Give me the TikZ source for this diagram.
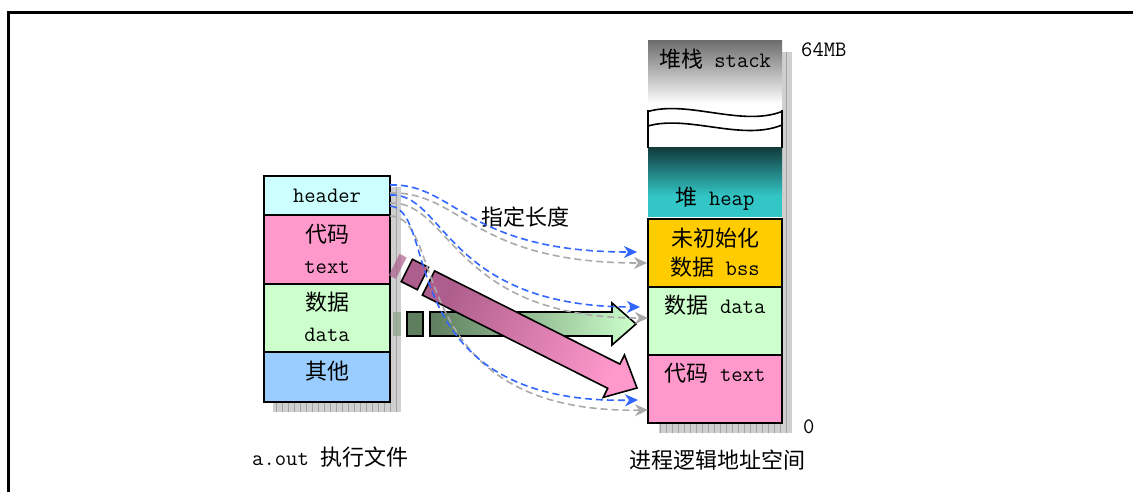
\documentclass[tikz,border=0pt]{standalone}
\usepackage{fontspec}
\newfontfamily\cjkf{Noto Sans CJK SC}
\usetikzlibrary{arrows.meta}
\newcommand\zh[1]{{\cjkf #1}}
\definecolor{hdrC}{HTML}{CCFFFF}
\definecolor{txtC}{HTML}{FF99CC}
\definecolor{datC}{HTML}{CCFFCC}
\definecolor{othC}{HTML}{99CCFF}
\definecolor{bssC}{HTML}{FFCC00}
\definecolor{heapD}{HTML}{123C3C}
\definecolor{heapL}{HTML}{33C6C6}
\definecolor{stackD}{HTML}{6E6E6E}
\definecolor{pinkD}{HTML}{AE5E8C}
\definecolor{greenD}{HTML}{5E7E5E}
\definecolor{greenM}{HTML}{9CC89C}
\definecolor{dashB}{HTML}{3366FF}
\definecolor{dashG}{HTML}{AAAAAA}
\definecolor{shadC}{HTML}{CFCFCF}
\definecolor{shadL}{HTML}{A4A4A4}
\tikzset{
  seg/.style={draw=black, line width=1.6pt, anchor=north west, inner sep=0pt, outer sep=0pt},
  lbl/.style={anchor=base, inner sep=0pt, font=\ttfamily\fontsize{22}{26}\selectfont},
  shadowbox/.style={fill=shadC},
  shadowgrid/.style={draw=shadL, line width=0.5pt},
  bdash/.style={draw=dashB, line width=1.6pt, dash pattern=on 7pt off 4pt,
    -{Stealth[length=13pt,width=12pt,inset=4pt]}},
  gdash/.style={draw=dashG, line width=1.6pt, dash pattern=on 7pt off 4pt,
    -{Stealth[length=13pt,width=12pt,inset=4pt]}},
  bigarrow/.style={draw=black, line width=1.6pt, line join=miter},
}
\begin{document}
\begin{tikzpicture}[x=1pt,y=-1pt]
\useasboundingbox (0,0) rectangle (1133,492);
% frame
\draw[line width=2.6pt] (8.5,492) -- (8.5,12.5) -- (1133,12.5);

% ---- shadows
\fill[shadowbox] (390,187) rectangle (401,412);
\fill[shadowbox] (273,402) rectangle (401,412);
\begin{scope}
  \clip (390,187) rectangle (401,412) (273,402) rectangle (401,412);
  \draw[shadowgrid, step=6] (270,185) grid (402,413);
\end{scope}
\fill[shadowbox] (782,52) rectangle (792,433);
\fill[shadowbox] (659,423) rectangle (792,433);
\begin{scope}
  \clip (782,52) rectangle (792,433) (659,423) rectangle (792,433);
  \draw[shadowgrid, step=6] (655,50) grid (793,434);
\end{scope}

% ---- left box
\node[seg, fill=hdrC, minimum width=126pt, minimum height=39pt] (hdr) at (264,176) {};
\node[seg, fill=txtC, minimum width=126pt, minimum height=69pt] (ltext) at (264,215) {};
\node[seg, fill=datC, minimum width=126pt, minimum height=68pt] (ldata) at (264,284) {};
\node[seg, fill=othC, minimum width=126pt, minimum height=50pt] (loth) at (264,352) {};
\node[lbl] (thdr) at (327,203) {header};
\node[lbl] (tl1) at (327,242) {\zh{代码}};
\node[lbl] (tl2) at (327,273) {text};
\node[lbl] (tl3) at (327,310) {\zh{数据}};
\node[lbl] (tl4) at (327,341) {data};
\node[lbl] (tl5) at (327,379) {\zh{其他}};

% ---- right box
\shade[top color=stackD, bottom color=white] (648,41) rectangle (782,104);
\fill[white] (648,104) rectangle (782,148);
\shade[top color=heapD, bottom color=heapL] (648,148) rectangle (782,196);
\fill[heapL] (648,195.5) rectangle (782,217);
\node[seg, fill=bssC, minimum width=134pt, minimum height=68pt] (rbss) at (648,219) {};
\node[seg, fill=datC, minimum width=134pt, minimum height=68pt] (rdata) at (648,287) {};
\node[seg, fill=txtC, minimum width=134pt, minimum height=68pt] (rtext) at (648,355) {};
\draw[line width=1.6pt] (648,111.5) .. controls (688,100) and (742,127) .. (782,111.5);
\draw[line width=1.6pt] (648,126) .. controls (688,114.5) and (742,141.5) .. (782,125);
\draw[line width=1.6pt] (648,110.5) -- (648,148);
\draw[line width=1.6pt] (782,110.5) -- (782,148);
\node[lbl] (tstack) at (715,68) {\zh{堆栈} stack};
\node[lbl] (theap) at (715,205) {\zh{堆} heap};
\node[lbl] (tbss1) at (715,246) {\zh{未初始化}};
\node[lbl] (tbss2) at (715,275) {\zh{数据} bss};
\node[lbl] (tdata) at (715,313) {\zh{数据} data};
\node[lbl] (ttext) at (715,381) {\zh{代码} text};
\node[lbl, anchor=base west] (t64) at (801,57) {64MB};
\node[lbl, anchor=base west] (t0) at (803,433) {0};

% ---- captions
\node[lbl, anchor=base west] (capL) at (252,465) {a.out \zh{执行文件}};
\node[lbl, anchor=base west] (capR) at (629,468) {\zh{进程逻辑地址空间}};
\node[lbl, anchor=base west] (capM) at (481,225) {\zh{指定长度}};

% ---- green arrow
\fill[greenD!70!white, opacity=0.75] (393,312) rectangle (401,336);
\draw[bigarrow, fill=greenD] (407,312) rectangle (423,336);
\path[bigarrow, left color=greenD, middle color=greenM, right color=datC]
  (430,312) -- (612,312) -- (612,303) -- (636,324) -- (612,345) -- (612,336) -- (430,336) -- cycle;

% ---- pink arrow
\begin{scope}[shift={(428.5,283)}, rotate=-26.7]
  \fill[pinkD, opacity=0.7] (-39,-13) rectangle (-31,11);
  \draw[bigarrow, fill=pinkD] (-25,-14) rectangle (-7,11);
\end{scope}
\path[bigarrow, left color=pinkD, right color=txtC, shading angle=63.3]
  (434.6,270.9) -- (619.9,364.1) -- (624.5,355.0) -- (637,388) -- (603.2,397.4) -- (607.7,388.3) -- (422.4,295.1) -- cycle;

% ---- dashed connectors
\coordinate (e1) at (637,252);
\coordinate (e2) at (640,307);
\coordinate (e3) at (638,400);
\coordinate (f1) at (647,263);
\coordinate (f2) at (648,318);
\coordinate (f3) at (648,410);
\coordinate (s1) at (390,185);
\coordinate (s2) at (390,195);
\coordinate (s3) at (390,206);
\coordinate (u1) at (390,193);
\coordinate (u2) at (390,203);
\coordinate (u3) at (390,216);
\draw[gdash] (u1) .. controls (462,191) and (470,263) .. (f1);
\draw[gdash] (u2) .. controls (452,201) and (452,318) .. (f2);
\draw[gdash] (u3) .. controls (448,216) and (400,414) .. (f3);
\draw[bdash] (s1) .. controls (455,183) and (465,252) .. (e1);
\draw[bdash] (s2) .. controls (445,192) and (445,307) .. (e2);
\draw[bdash] (s3) .. controls (440,210) and (390,405) .. (e3);
\end{tikzpicture}
\end{document}
